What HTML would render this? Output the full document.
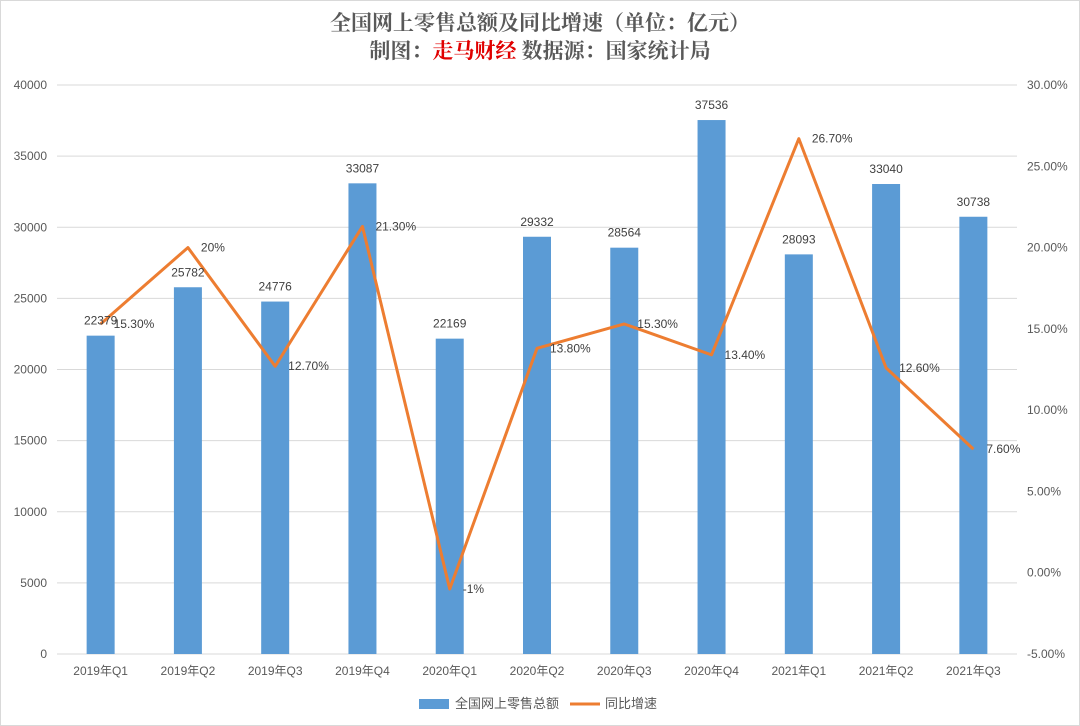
<!DOCTYPE html>
<html><head><meta charset="utf-8"><style>
body{margin:0;background:#fff;}
svg{display:block;font-family:"Liberation Sans","Noto Sans CJK SC",sans-serif;}
</style></head><body>
<svg id="c" width="1080" height="726">
<rect x="0.5" y="0.5" width="1079" height="725" fill="#fff" stroke="#d9d9d9"/>
<text x="540" y="30" text-anchor="middle" font-size="21" fill="#595959" font-family="'Noto Serif CJK SC',serif" font-weight="bold">全国网上零售总额及同比增速（单位：亿元）</text>
<text x="540" y="58" text-anchor="middle" font-size="21" fill="#595959" font-family="'Noto Serif CJK SC',serif" font-weight="bold">制图：<tspan fill="#e00000">走马财经</tspan> 数据源：国家统计局</text>
<g id="grid"></g><g id="bars"></g><g id="line"></g><g id="labels"></g>
<g>
<rect x="419" y="699" width="30" height="10" fill="#5B9BD5"/>
<text x="455" y="708" font-size="13" fill="#595959">全国网上零售总额</text>
<line x1="570" y1="704" x2="600" y2="704" stroke="#ED7D31" stroke-width="3"/>
<text x="605" y="708" font-size="13" fill="#595959">同比增速</text>
</g>
</svg>
<script>
const categories=["2019年Q1","2019年Q2","2019年Q3","2019年Q4","2020年Q1","2020年Q2","2020年Q3","2020年Q4","2021年Q1","2021年Q2","2021年Q3"];
const sales=[22379,25782,24776,33087,22169,29332,28564,37536,28093,33040,30738];
const growth=[15.3,20,12.7,21.3,-1,13.8,15.3,13.4,26.7,12.6,7.6];
const growthLabels=["15.30%","20%","12.70%","21.30%","-1%","13.80%","15.30%","13.40%","26.70%","12.60%","7.60%"];
const leftTicks=[0,5000,10000,15000,20000,25000,30000,35000,40000];
const rightTicks=[-5,0,5,10,15,20,25,30];
const NS="http://www.w3.org/2000/svg";
const L=57,R=1017,T=85,B=654;
const yL=v=>B-(v/40000)*(B-T);
const yR=v=>B-((v+5)/35)*(B-T);
const bw=(R-L)/categories.length;
const xc=i=>L+bw*(i+0.5);
function mk(tag,parent,attrs,text){const e=document.createElementNS(NS,tag);for(const k in attrs)e.setAttribute(k,attrs[k]);if(text!==undefined)e.textContent=text;document.getElementById(parent).appendChild(e);return e;}
leftTicks.forEach(v=>{
 const g=mk('line','grid',{x1:L,x2:R,y1:yL(v),y2:yL(v),stroke:'#d9d9d9','stroke-width':1});
 
 
 const t=mk('text','grid',{x:47,y:yL(v)+4,'text-anchor':'end','font-size':12,fill:'#595959'},v);
 
 
});
rightTicks.forEach(v=>{
 const t=mk('text','grid',{x:1027,y:yR(v)+4,'font-size':12,fill:'#595959'},v.toFixed(2)+'%');
 
 
});
categories.forEach((c,i)=>{
 const t=mk('text','grid',{x:xc(i),y:675,'text-anchor':'middle','font-size':12,fill:'#595959'},c);
 
 
 const b=mk('rect','bars',{x:xc(i)-14,y:yL(sales[i]),width:28,height:B-yL(sales[i]),fill:'#5B9BD5'});
 
 
 const bl=mk('text','labels',{x:xc(i),y:yL(sales[i])-11,'text-anchor':'middle','font-size':12,fill:'#404040'},sales[i]);
 
 
 const ll=mk('text','labels',{x:xc(i)+13,y:yR(growth[i])+4,'font-size':12,fill:'#404040'},growthLabels[i]);
 
 
});
const pl=mk('polyline','line',{points:growth.map((g,i)=>xc(i)+','+yR(g)).join(' '),fill:'none',stroke:'#ED7D31','stroke-width':3,'stroke-linejoin':'round'});


</script>
</body></html>
